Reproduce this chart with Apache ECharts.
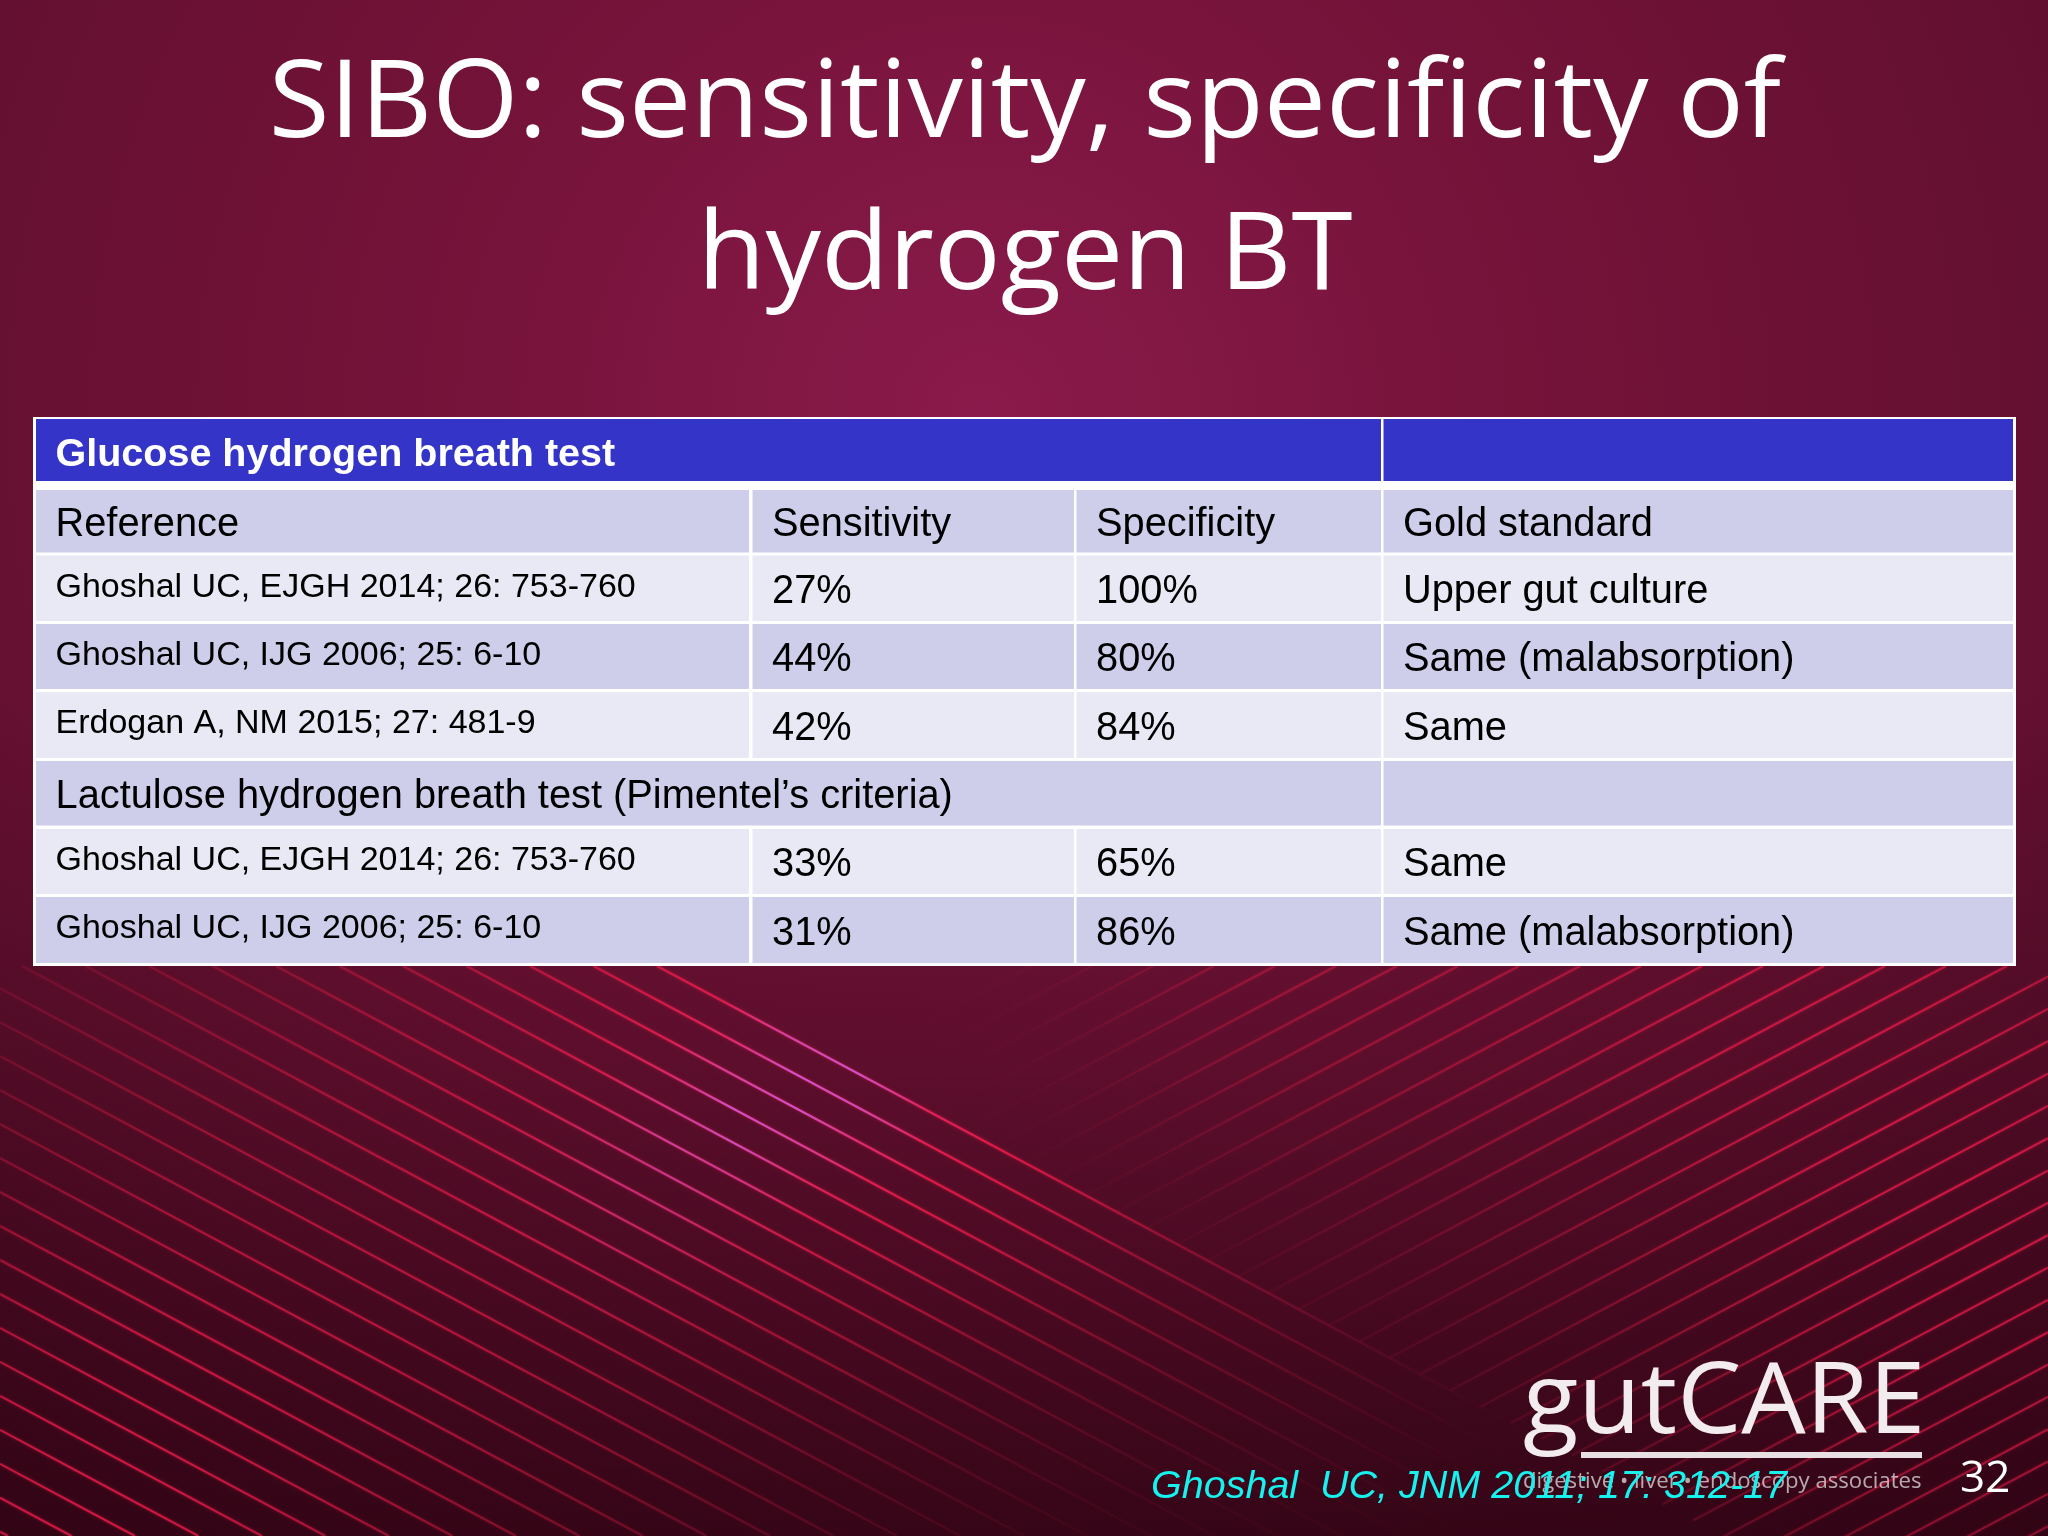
<!DOCTYPE html>
<html>
<head>
<meta charset="UTF-8">
<script src="https://cdn.jsdelivr.net/npm/echarts@6/dist/echarts.min.js"></script>
<style>html,body{margin:0;padding:0;background:#000}#main{width:2048px;height:1536px}</style>
</head>
<body>
<div id="main"></div>
<script>
// table content
var glucoseTitle = 'Glucose hydrogen breath test';
var lactuloseTitle = 'Lactulose hydrogen breath test (Pimentel\u2019s criteria)';
var columnNames = ['Reference', 'Sensitivity', 'Specificity', 'Gold standard'];
var glucoseRefs = ['Ghoshal UC, EJGH 2014; 26: 753-760', 'Ghoshal UC, IJG 2006; 25: 6-10', 'Erdogan A, NM 2015; 27: 481-9'];
var glucoseSens = [27, 44, 42];
var glucoseSpec = [100, 80, 84];
var glucoseGold = ['Upper gut culture', 'Same (malabsorption)', 'Same'];
var lactuloseRefs = ['Ghoshal UC, EJGH 2014; 26: 753-760', 'Ghoshal UC, IJG 2006; 25: 6-10'];
var lactuloseSens = [33, 31];
var lactuloseSpec = [65, 86];
var lactuloseGold = ['Same', 'Same (malabsorption)'];

// cell bands in axis units
var colBands = [[3, 716], [719.5, 1041], [1043.5, 1348], [1350.5, 1980]];
var rowBands = [[2, 64], [73, 135.5], [138.5, 204], [207, 272], [275, 341], [344, 408.6], [412, 477], [480, 546]];

var BLUE = '#3434c8', DARK = '#cecdea', LIGHT = '#e9e9f5';
var cells = [];

function addCell(row, col, colEnd, text, fill, kind) {
    cells.push([row, col, colEnd, text, fill, kind]);
}
function addRow(row, ref, sens, spec, gold, fill) {
    addCell(row, 0, 0, ref, fill, 'ref');
    addCell(row, 1, 1, sens + '%', fill, 'val');
    addCell(row, 2, 2, spec + '%', fill, 'val');
    addCell(row, 3, 3, gold, fill, 'val');
}

addCell(0, 0, 2, glucoseTitle, BLUE, 'head');
addCell(0, 3, 3, '', BLUE, 'head');
columnNames.forEach(function (name, i) {
    addCell(1, i, i, name, DARK, 'val');
});
glucoseRefs.forEach(function (ref, i) {
    addRow(2 + i, ref, glucoseSens[i], glucoseSpec[i], glucoseGold[i], i % 2 ? DARK : LIGHT);
});
addCell(5, 0, 2, lactuloseTitle, DARK, 'val');
addCell(5, 3, 3, '', DARK, 'val');
lactuloseRefs.forEach(function (ref, i) {
    addRow(6 + i, ref, lactuloseSens[i], lactuloseSpec[i], lactuloseGold[i], i % 2 ? DARK : LIGHT);
});

function renderCell(params, api) {
    var row = api.value(0), col = api.value(1), colEnd = api.value(2);
    var text = api.value(3), fill = api.value(4), kind = api.value(5);
    var p0 = api.coord([colBands[col][0], rowBands[row][0]]);
    var p1 = api.coord([colBands[colEnd][1], rowBands[row][1]]);
    var fontSize = kind == 'ref' ? 34 : kind == 'head' ? 39.5 : 39.8;
    var dy = kind == 'ref' ? -1 : kind == 'head' ? 5 : 4;
    return {
        type: 'group',
        children: [{
            type: 'rect',
            shape: { x: p0[0], y: p0[1], width: p1[0] - p0[0], height: p1[1] - p0[1] },
            style: { fill: fill }
        }, {
            type: 'text',
            style: {
                text: text,
                x: p0[0] + 19.5,
                y: (p0[1] + p1[1]) / 2 + dy,
                fill: kind == 'head' ? '#ffffff' : '#000000',
                fontFamily: 'Liberation Sans',
                fontSize: fontSize,
                fontWeight: kind == 'head' ? 'bold' : 'normal',
                align: 'left',
                verticalAlign: 'middle'
            }
        }]
    };
}

// background streaks
function glow(blobs, x, y) {
    var a = 0;
    blobs.forEach(function (b) {
        var dx = x - b[0], dy = y - b[1];
        a += b[2] * Math.exp(-(dx * dx + dy * dy) / (2 * b[3] * b[3]));
    });
    return Math.min(1, a);
}
var blobsA = [[800, 1010, 0.72, 190], [540, 1210, 0.38, 250], [60, 1520, 0.62, 200], [1000, 1140, 0.55, 140], [250, 1320, 0.28, 300], [1250, 1300, 0.16, 120]];
var blobsB = [[2048, 1180, 0.58, 260], [1700, 990, 0.48, 230], [1300, 965, 0.3, 130], [1950, 1420, 0.22, 170]];
var magentaBlobs = [[850, 1063, 1, 45], [790, 1095, 0.8, 45], [717, 1130, 0.7, 45], [640, 1185, 0.5, 60]];
var TOP = 966, SLOPE_A = 0.535, SLOPE_B = 0.53, FIRST_X = 657;

function streak(x1, y1, x2, y2, blobs, magenta) {
    var stops = [], n = 16;
    for (var i = 0; i <= n; i++) {
        var t = i / n, x = x1 + (x2 - x1) * t, y = y1 + (y2 - y1) * t;
        var a = glow(blobs, x, y);
        var m = magenta ? glow(magenta, x, y) : 0;
        var r = Math.round(225 - 15 * m), g = Math.round(25 + 55 * m), b = Math.round(70 + 130 * m);
        stops.push({ offset: t, color: 'rgba(' + r + ',' + g + ',' + b + ',' + a.toFixed(3) + ')' });
    }
    return {
        type: 'line',
        silent: true,
        shape: { x1: x1, y1: y1, x2: x2, y2: y2 },
        style: {
            lineWidth: 2.1,
            shadowBlur: 3,
            shadowColor: 'rgba(225,25,70,0.6)',
            stroke: { type: 'linear', x: x1, y: y1, x2: x2, y2: y2, global: true, colorStops: stops }
        }
    };
}

var background = [];
// family going down to the right
for (var k = 0; k < 40; k++) {
    var xTop = FIRST_X - 63.5 * k;
    var startX = Math.max(0, xTop);
    var startY = TOP + (startX - xTop) * SLOPE_A;
    if (startY > 1536) break;
    background.push(streak(startX, startY, startX + (1536 - startY) / SLOPE_A, 1536, blobsA, magentaBlobs));
}
// family going up to the right
for (var j = 0; j < 36; j++) {
    var xk = 1031 + 61 * j;
    var xLo = (SLOPE_B * xk + SLOPE_A * FIRST_X) / (SLOPE_A + SLOPE_B);
    var yLo = TOP + (xk - xLo) * SLOPE_B;
    var xHi = Math.min(xk, 2048);
    var yHi = TOP + (xk - xHi) * SLOPE_B;
    if (xLo >= 2048 || yHi > 1536) break;
    background.push(streak(xLo, yLo, xHi, yHi, blobsB));
}

// darker lower part of the slide
background.unshift({
    type: 'rect',
    silent: true,
    shape: { x: 0, y: 0, width: 2048, height: 1536 },
    style: {
        fill: {
            type: 'linear', x: 0, y: 0, x2: 0, y2: 1,
            colorStops: [
                { offset: 0, color: 'rgba(30,0,10,0)' },
                { offset: 0.45, color: 'rgba(30,0,10,0)' },
                { offset: 0.7, color: 'rgba(30,0,10,0.25)' },
                { offset: 1, color: 'rgba(30,0,10,0.65)' }
            ]
        }
    }
});

function slideText(opt) {
    return {
        type: 'text',
        silent: true,
        x: opt.x,
        y: opt.y,
        scaleX: opt.scaleX || 1,
        style: {
            text: opt.text,
            x: 0,
            y: 0,
            fill: opt.fill || '#ffffff',
            fontFamily: opt.family || 'Open Sans',
            fontSize: opt.size,
            fontWeight: opt.weight || 'normal',
            fontStyle: opt.italic ? 'italic' : 'normal',
            opacity: opt.opacity == null ? 1 : opt.opacity,
            align: opt.align || 'left',
            verticalAlign: 'middle'
        }
    };
}

var slideTexts = [
    slideText({ text: 'SIBO: sensitivity, specificity of', x: 1025, y: 106, size: 108, align: 'center', scaleX: 1.026 }),
    slideText({ text: 'hydrogen BT', x: 1025, y: 258, size: 108, align: 'center', scaleX: 1.026 }),
    slideText({ text: 'gutCARE', x: 1523, y: 1405, size: 98, scaleX: 1.04, fill: '#f3ecee' }),
    slideText({ text: 'digestive \u2022 liver \u2022 endoscopy associates', x: 1523, y: 1482, size: 21, scaleX: 1.055, opacity: 0.65 }),
    slideText({ text: 'Ghoshal  UC, JNM 2011; 17: 312-17', x: 1151, y: 1487, size: 39.5, family: 'Liberation Sans', italic: true, fill: '#16f2ee' }),
    slideText({ text: '32', x: 1960, y: 1479, size: 44 })
];

var logoRule = {
    type: 'rect',
    silent: true,
    shape: { x: 1581, y: 1452, width: 341, height: 6 },
    style: { fill: '#e8dfe2' }
};

var chart = echarts.init(document.getElementById('main'));
chart.setOption({
    animation: false,
    backgroundColor: {
        type: 'radial', x: 0.48, y: 0.27, r: 1.0,
        colorStops: [
            { offset: 0, color: '#8a1a4b' },
            { offset: 0.35, color: '#751339' },
            { offset: 0.7, color: '#641030' },
            { offset: 1, color: '#530b27' }
        ]
    },
    grid: { left: 33, top: 417, width: 1983, height: 549 },
    xAxis: { type: 'value', min: 0, max: 1983, show: false },
    yAxis: { type: 'value', min: 0, max: 549, inverse: true, show: false },
    graphic: background.concat(slideTexts, [logoRule]),
    series: [{
        type: 'custom',
        coordinateSystem: 'cartesian2d',
        clip: false,
        silent: true,
        renderItem: renderCell,
        markArea: {
            silent: true,
            z: 1,
            itemStyle: { color: '#ffffff', opacity: 1 },
            data: [[{ coord: [0, 0] }, { coord: [1983, 549] }]]
        },
        data: cells
    }]
});
</script>
</body>
</html>
